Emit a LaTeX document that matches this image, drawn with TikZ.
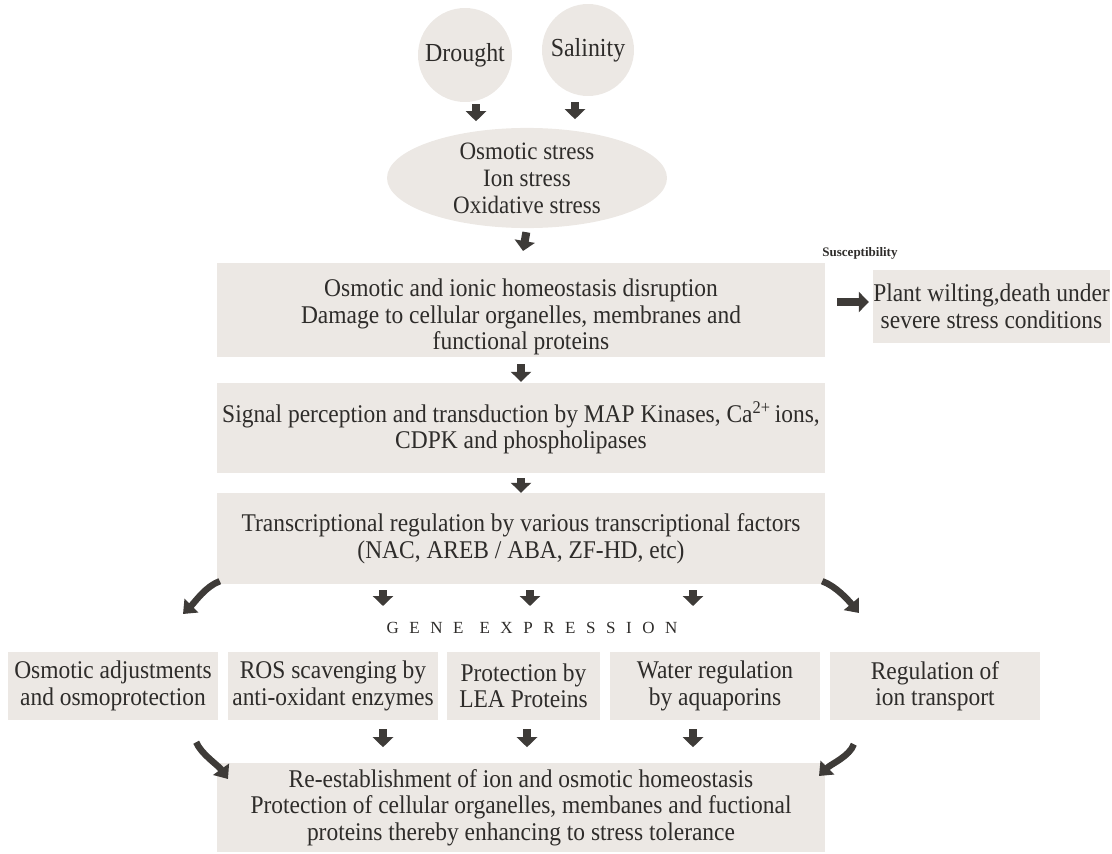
\documentclass[tikz,border=0pt]{standalone}
\usepackage{fontspec}
\setmainfont{Liberation Serif}
\usetikzlibrary{arrows.meta,calc,shapes.geometric}
\definecolor{boxfill}{HTML}{ECE8E4}
\definecolor{arr}{HTML}{3E3B38}
\definecolor{txt}{HTML}{2E2C2A}
\begin{document}
\begin{tikzpicture}[x=1pt,y=-1pt,
  box/.style={fill=boxfill,draw=none,inner sep=0pt,align=center,text=txt,
    font=\fontsize{25.5}{26.5}\selectfont\addfontfeature{FakeStretch=0.92}},
  bigbox/.style={box,minimum width=608pt},
  smallbox/.style={box,minimum width=210pt,minimum height=68pt},
  blk/.style={draw=arr,line width=8pt,-{Triangle[width=20pt,length=10pt]}},
  curv/.style={draw=arr,line width=6.5pt,-{Triangle[width=19pt,length=12pt]}}]
\useasboundingbox (0,0) rectangle (1112,854);

% top
\node[box,circle,minimum size=94pt,font=\fontsize{26}{28}\selectfont\addfontfeature{FakeStretch=0.92}] (drought) at (465,55) {Drought};
\node[box,circle,minimum size=92pt,font=\fontsize{26}{28}\selectfont\addfontfeature{FakeStretch=0.92}] (salinity) at (588,50) {Salinity};
\node[box,ellipse,minimum width=280pt,minimum height=94pt,font=\fontsize{25}{27}\selectfont\addfontfeature{FakeStretch=0.92}] (stress) at (527,178)
  {Osmotic stress\\Ion stress\\Oxidative stress};

\node[bigbox,minimum height=94pt] (disrupt) at (521,310)
  {\rule{0pt}{32pt}Osmotic and ionic homeostasis disruption\\Damage to cellular organelles, membranes and\\functional proteins};
\node[font=\bfseries\fontsize{13}{15}\selectfont,text=txt] (suscept) at (860,253) {Susceptibility};
\node[box,minimum width=237pt,minimum height=73pt] (wilt) at (991.5,306.5)
  {Plant wilting,death under\\severe stress conditions};

\node[bigbox,minimum height=90pt] (signal) at (521,428)
  {Signal perception and transduction by MAP Kinases, Ca\textsuperscript{2+}\,ions,\\CDPK and phospholipases};
\node[bigbox,minimum height=91pt] (transc) at (521,538.5)
  {Transcriptional regulation by various transcriptional factors\\(NAC, AREB / ABA, ZF-HD, etc)};

\node[text=txt,font=\fontsize{17}{18}\selectfont\addfontfeature{LetterSpace=62}] (gene) at (532,628)
  {GENE\hspace{16pt}EXPRESSION};

\node[smallbox] (osmo) at (113,686) {Osmotic adjustments\\and osmoprotection};
\node[smallbox] (ros) at (333,686) {ROS scavenging by\\anti-oxidant enzymes};
\node[smallbox,minimum width=153pt] (lea) at (523.5,686) {Protection by\\LEA Proteins};
\node[smallbox] (water) at (715,686) {Water regulation\\by aquaporins};
\node[smallbox] (ion) at (935,686) {Regulation of\\ion transport};

\node[bigbox,minimum height=89pt] (final) at (521,807.5)
  {Re-establishment of ion and osmotic homeostasis\\Protection of cellular organelles, membanes and fuctional\\proteins thereby enhancing to stress tolerance};

% arrow end coordinates
\coordinate (g1) at (383,606);
\coordinate (g2) at (530,606);
\coordinate (g3) at (693,606);
\coordinate (gl) at (183,614);
\coordinate (gr) at (859,613);
\coordinate (r2) at (383,730);
\coordinate (l2) at (527,730);
\coordinate (w2) at (693,730);
\coordinate (fl) at (228,779);
\coordinate (fr) at (819,776);

% arrows
\draw[blk] (drought.south -| 476,0) ++(0,2) -- ++(0,17);
\draw[blk] (salinity.south -| 575,0) ++(0,6) -- ++(0,17);
\draw[blk,shorten <=4pt,shorten >=12pt] (stress.south) -- (disrupt.north);
\draw[blk,shorten <=7pt,shorten >=1pt] (disrupt.south) -- (signal.north);
\draw[blk,shorten <=5pt,shorten >=0pt] (signal.south) -- (transc.north);
\draw[blk,shorten <=12pt,shorten >=4pt] (disrupt.east |- 0,302) -- (wilt.west |- 0,302);

\draw[blk] (g1 |- transc.south) ++(0,6) -- (g1);
\draw[blk] (g2 |- transc.south) ++(0,6) -- (g2);
\draw[blk] (g3 |- transc.south) ++(0,6) -- (g3);
\draw[curv] (transc.south west) ++(3,-3) .. controls +(-14,5) and +(12,-12) .. (gl);
\draw[curv] (transc.south east) ++(-3,-3) .. controls +(14,5) and +(-10,-12) .. (gr);

\draw[blk] (ros.south -| r2) ++(0,9) -- ++(0,18);
\draw[blk] (lea.south -| l2) ++(0,9) -- ++(0,18);
\draw[blk] (water.south -| w2) ++(0,9) -- ++(0,18);
\draw[curv] (osmo.south east) ++(-22,22) .. controls +(5,12) and +(-10,-14) .. (fl);
\draw[curv] (ion.south west) ++(24,24) .. controls +(-4,12) and +(12,-12) .. (fr);
\end{tikzpicture}
\end{document}
